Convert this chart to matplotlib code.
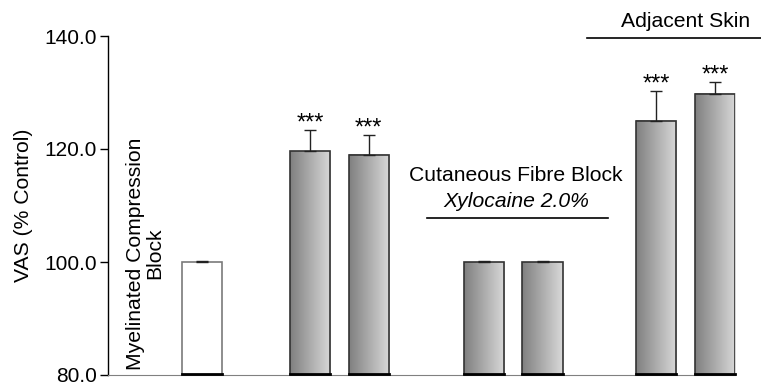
import matplotlib.pyplot as plt
import numpy as np

plt.rcParams['font.family'] = ['Liberation Sans', 'DejaVu Sans']

# bar data
positions = [0, 1.85, 2.85, 4.82, 5.82, 7.76, 8.77]
values = [100.0, 119.6, 119.0, 100.0, 100.0, 125.0, 129.8]
errors = [0.1, 3.7, 3.4, 0.25, 0.15, 5.2, 2.1]
stars = ['', '***', '***', '', '', '***', '***']
shaded = [False, True, True, True, True, True, True]
yticks = [80.0, 100.0, 120.0, 140.0]

WIDTH = 0.69
BASE = 80.0
FS = 15.2

fig = plt.figure(figsize=(7.61, 3.86), dpi=100)
ax = fig.add_axes([108 / 761, 11 / 386, (735 - 108) / 761, (375 - 36) / 386])

gradient = np.linspace(0, 1, 256).reshape(1, -1)

for x, v, e, s, sh in zip(positions, values, errors, stars, shaded):
  left = x - WIDTH / 2
  if sh:
    ax.imshow(gradient, extent=(left, left + WIDTH, BASE, v), aspect='auto',
              cmap='gray', vmin=-1.43, vmax=1.43, zorder=1)
    edge = '#333333'
  else:
    edge = '#7a7a7a'
  ax.bar(x, v - BASE, bottom=BASE, width=WIDTH, fill=False,
         edgecolor=edge, linewidth=1.2, zorder=2)
  ax.plot([left, left + WIDTH], [BASE + 0.15, BASE + 0.15], color='black',
          lw=2, zorder=3, clip_on=False)
  ax.errorbar(x, v, yerr=[[0], [e]], fmt='none', ecolor='#222222',
              elinewidth=1, capsize=4.5, capthick=1, zorder=3)
  if s:
    ax.text(x, v + e + 0.1, s, ha='center', va='baseline', fontsize=17)

ax.set_xlim(-1.607, 9.11)
ax.set_ylim(80, 140)
ax.set_yticks(yticks)
ax.set_yticklabels(['%.1f' % t for t in yticks], fontsize=15)
ax.set_xticks([])
ax.set_ylabel('VAS (% Control)', fontsize=FS, labelpad=8)
ax.spines['top'].set_visible(False)
ax.spines['right'].set_visible(False)
ax.spines['bottom'].set_color('#808080')
ax.spines['left'].set_linewidth(1)
ax.tick_params(axis='y', length=6, width=1, direction='out', pad=2)

# group annotations
ax.text(-0.97, 101.5, 'Myelinated Compression\nBlock', rotation=90,
        ha='center', va='center', fontsize=FS, multialignment='center',
        linespacing=1.0)

ax.text(5.37, 115.3, 'Cutaneous Fibre Block', ha='center', va='center', fontsize=FS)
ax.text(5.37, 110.7, 'Xylocaine 2.0%', ha='center', va='center', fontsize=FS,
        style='italic')
ax.plot([3.85, 6.94], [107.8, 107.8], color='black', lw=1.2)

ax.text(8.27, 142.6, 'Adjacent Skin', ha='center', va='center', fontsize=FS,
        clip_on=False)
ax.plot([6.58, 9.6], [139.7, 139.7], color='black', lw=1.2, clip_on=False)

fig.savefig('out.png', dpi=100)
